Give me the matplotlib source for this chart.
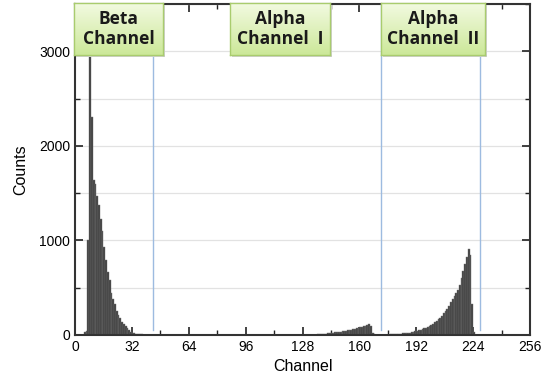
import numpy as np
import matplotlib.pyplot as plt
from matplotlib.ticker import MultipleLocator

# histogram counts per channel
beta_start = 5
beta_counts = [30, 40, 1000, 3400, 2300, 1640, 1600, 1470, 1370, 1230, 1100,
               930, 790, 670, 580, 440, 380, 330, 250, 210, 175, 140, 120, 90,
               70, 50, 35, 25, 18, 12, 10, 8, 6, 5, 4, 3, 2, 2, 1]

alpha1_start = 130
alpha1_counts = [2, 2, 3, 3, 4, 5, 6, 7, 8, 10, 12, 15, 18, 20, 22, 24, 27, 30,
                 32, 35, 38, 40, 45, 48, 52, 55, 60, 65, 70, 75, 80, 88, 95,
                 100, 110, 118, 95, 25, 8, 4]

alpha2_start = 174
alpha2_counts = [3, 4, 5, 6, 7, 8, 9, 10, 12, 14, 16, 18, 20, 23, 26, 30, 34,
                 38, 42, 48, 55, 62, 70, 78, 88, 98, 108, 120, 135, 150, 165,
                 185, 205, 228, 250, 280, 310, 345, 380, 410, 440, 480, 530,
                 600, 680, 750, 820, 910, 850, 330, 30, 5]

cut_channels = [44, 172, 228]
box_labels = ['Beta\nChannel', 'Alpha\nChannel  I', 'Alpha\nChannel  II']
# box extents in pixels: left, right, top, bottom
box_px = [(74, 163, 3, 55), (230, 330, 3, 55), (381, 485, 3, 55)]

W, H = 557, 383
fig = plt.figure(figsize=(W / 100, H / 100), dpi=100)
plt.rcParams['font.family'] = ['Liberation Sans', 'DejaVu Sans']
ax = fig.add_axes([75 / W, 48 / H, 455 / W, 331 / H])

for start, counts in [(beta_start, beta_counts), (alpha1_start, alpha1_counts),
                      (alpha2_start, alpha2_counts)]:
    ch = np.arange(start, start + len(counts))
    ax.bar(ch, counts, width=1.0, align='edge', color='#404040',
           edgecolor='#707070', linewidth=0.3, zorder=2)

for c in cut_channels:
    ax.plot([c, c], [50, 3500], color='#9dbbe0', lw=1.0, zorder=3)

ax.set_xlim(0, 256)
ax.set_ylim(0, 3500)
ax.xaxis.set_major_locator(MultipleLocator(32))
ax.xaxis.set_minor_locator(MultipleLocator(16))
ax.yaxis.set_major_locator(MultipleLocator(1000))
ax.yaxis.set_minor_locator(MultipleLocator(500))
ax.set_yticks([0, 1000, 2000, 3000])
ax.tick_params(which='both', direction='in', top=True, right=True,
               color='#222222', labelsize=10)
ax.tick_params(which='major', length=6, width=1.2)
ax.tick_params(which='minor', length=3.5, width=1.0)
ax.grid(axis='y', which='both', color='#e2e2e2', lw=0.9, zorder=0)
ax.set_axisbelow(True)
for s in ax.spines.values():
    s.set_color('#333333')
    s.set_linewidth(1.5)
ax.set_xlabel('Channel', fontsize=11.5, labelpad=4)
ax.set_ylabel('Counts', fontsize=11.5, labelpad=8)

# gradient label boxes
grad = np.linspace(0, 1, 64).reshape(-1, 1)
top_c = np.array([0.95, 0.98, 0.88])
bot_c = np.array([0.80, 0.91, 0.60])
img = top_c + (bot_c - top_c) * grad[:, :, None] * np.ones((1, 1, 3))
for (l, r, t, b), label in zip(box_px, box_labels):
    sh = fig.add_axes([(l + 2) / W, (H - b - 2) / H, (r - l) / W, (b - t) / H])
    sh.set_facecolor('#d0d0d0')
    sh.set_xticks([]); sh.set_yticks([])
    for s in sh.spines.values():
        s.set_visible(False)
    bx = fig.add_axes([l / W, (H - b) / H, (r - l) / W, (b - t) / H])
    bx.imshow(img, aspect='auto', extent=[0, 1, 0, 1])
    bx.set_xticks([]); bx.set_yticks([])
    for s in bx.spines.values():
        s.set_color('#a9cc6e')
        s.set_linewidth(1.0)
    bx.text(0.5, 0.5, label, ha='center', va='center', fontsize=12.5,
            fontweight='bold', family=['Open Sans', 'DejaVu Sans'],
            color='#1a1a1a', linespacing=1.1, transform=bx.transAxes)

fig.savefig('out.png', dpi=100)
